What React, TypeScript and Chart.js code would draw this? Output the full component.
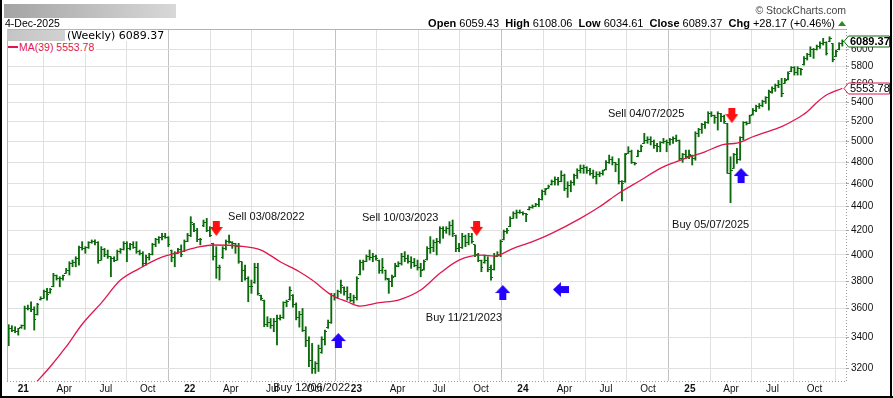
import React, { useEffect, useRef } from 'react';
import { Chart, registerables } from 'chart.js';

Chart.register(...registerables);

// ---------- data ----------
const FIRST_WEEK = '2020-11-30'; // week index 0

const tickDates = [
  '2021-01-01', '2021-04-01', '2021-07-01', '2021-10-01',
  '2022-01-01', '2022-04-01', '2022-07-01', '2022-10-01',
  '2023-01-01', '2023-04-01', '2023-07-01', '2023-10-01',
  '2024-01-01', '2024-04-01', '2024-07-01', '2024-10-01',
  '2025-01-01', '2025-04-01', '2025-07-01', '2025-10-01',
];
const tickLabels = [
  '21', 'Apr', 'Jul', 'Oct', '22', 'Apr', 'Jul', 'Oct', '23', 'Apr', 'Jul', 'Oct',
  '24', 'Apr', 'Jul', 'Oct', '25', 'Apr', 'Jul', 'Oct',
];
const yTickValues = [3200, 3400, 3600, 3800, 4000, 4200, 4400, 4600, 4800, 5000, 5200, 5400, 5600, 5800, 6000];

const opens = [
  3400, 3460, 3450, 3440, 3465, 3480, 3600, 3600, 3590, 3560,
  3662, 3670, 3720, 3712, 3760, 3840, 3820, 3820, 3860, 3880,
  3930, 3940, 3970, 4060, 4050, 4060, 4100, 4110, 4100, 3960,
  4040, 4000, 3985, 3970, 3960, 4030, 4040, 4090, 4050, 4080,
  4060, 4030, 4010, 3930, 3980, 4000, 4080, 4120, 4140, 4150,
  4140, 4035, 3980, 4015, 4040, 4030, 4110, 4160, 4250, 4200,
  4120, 4235, 4260, 4200, 4090, 3990, 3900, 3980, 4050, 4110,
  4100, 4090, 4070, 3945, 3880, 3820, 3760, 3790, 3900, 3690,
  3655, 3490, 3500, 3480, 3510, 3530, 3540, 3640, 3665, 3695,
  3630, 3540, 3560, 3450, 3380, 3250, 3200, 3230, 3300, 3390,
  3465, 3500, 3690, 3680, 3720, 3750, 3720, 3680, 3660, 3680,
  3850, 3940, 3950, 3990, 3980, 3990, 3955, 3880, 3880, 3815,
  3800, 3835, 3912, 3930, 3990, 3970, 3950, 3940, 3920, 3900,
  3885, 3962, 4050, 4060, 4100, 4110, 4210, 4200, 4210, 4240,
  4160, 4050, 4060, 4150, 4100, 4150, 4080, 4000, 3960, 3938,
  3960, 3900, 3885, 3990, 4000, 4122, 4190, 4230, 4300, 4340,
  4350, 4350, 4340, 4372, 4390, 4400, 4420, 4460, 4530, 4562,
  4592, 4620, 4640, 4620, 4680, 4560, 4590, 4610, 4680, 4720,
  4740, 4750, 4720, 4700, 4670, 4690, 4700, 4730, 4800, 4830,
  4800, 4780, 4620, 4620, 4888, 4900, 4798, 4855, 4903, 4985,
  5010, 5020, 5000, 4960, 4950, 4990, 5000, 4990, 5020, 5030,
  5010, 4840, 4870, 4860, 4865, 4840, 5080, 5120, 5170, 5190,
  5280, 5260, 5240, 5280, 5250, 5180, 4700, 4745, 4870, 4830,
  5040, 5190, 5185, 5270, 5320, 5360, 5370, 5410, 5450, 5510,
  5550, 5580, 5600, 5610, 5648, 5740, 5780, 5730, 5770, 5815,
  5890, 5930, 6000, 5990, 6030, 6070, 6080, 6090, 6066, 5912,
  5992, 6059.43,
];
const highs = [
  3487, 3480, 3473, 3462, 3485, 3617, 3624, 3648, 3612, 3637,
  3684, 3733, 3745, 3745, 3858, 3845, 3832, 3845, 3896, 3947,
  3960, 3986, 4071, 4106, 4066, 4106, 4120, 4120, 4106, 4066,
  4052, 4039, 3986, 3986, 4039, 4052, 4106, 4106, 4093, 4106,
  4106, 4039, 4026, 4000, 4013, 4093, 4133, 4147, 4174, 4174,
  4147, 4039, 4026, 4052, 4080, 4120, 4174, 4313, 4257, 4215,
  4133, 4285, 4299, 4229, 4093, 4066, 3921, 4066, 4120, 4160,
  4106, 4093, 4093, 3947, 3921, 3832, 3807, 3935, 3935, 3696,
  3660, 3542, 3530, 3530, 3554, 3554, 3648, 3660, 3757, 3700,
  3640, 3580, 3600, 3473, 3405, 3361, 3242, 3350, 3405, 3450,
  3519, 3709, 3709, 3733, 3807, 3757, 3757, 3709, 3696, 3832,
  3960, 3960, 4000, 4039, 4013, 4000, 3960, 3973, 3883, 3820,
  3845, 3935, 3947, 4013, 4026, 4000, 3986, 3973, 3960, 3935,
  3960, 4066, 4147, 4120, 4133, 4229, 4229, 4229, 4271, 4285,
  4160, 4093, 4174, 4160, 4174, 4174, 4080, 4013, 3960, 4000,
  3986, 3921, 4013, 4026, 4120, 4201, 4215, 4313, 4355, 4370,
  4370, 4355, 4341, 4400, 4414, 4428, 4472, 4546, 4560, 4590,
  4636, 4665, 4660, 4720, 4690, 4620, 4630, 4690, 4740, 4775,
  4775, 4759, 4743, 4728, 4712, 4712, 4728, 4817, 4869, 4853,
  4800, 4836, 4630, 4885, 4950, 4917, 4800, 4917, 4967, 5082,
  5048, 5048, 5016, 4983, 5000, 5032, 5016, 5032, 5048, 5065,
  5016, 4885, 4917, 4917, 4869, 5098, 5132, 5183, 5200, 5303,
  5303, 5268, 5303, 5286, 5268, 5183, 4853, 4885, 4934, 5048,
  5200, 5200, 5268, 5337, 5372, 5390, 5425, 5462, 5534, 5570,
  5600, 5640, 5663, 5663, 5737, 5795, 5795, 5795, 5776, 5910,
  5949, 6027, 6007, 6047, 6086, 6127, 6086, 6147, 6066, 5988,
  6075, 6108.06,
];
const lows = [
  3346, 3439, 3432, 3416, 3462, 3455, 3589, 3578, 3450, 3554,
  3660, 3672, 3660, 3709, 3757, 3807, 3757, 3807, 3858, 3845,
  3908, 3908, 3921, 4039, 4013, 4052, 4093, 4080, 3935, 3960,
  3986, 3973, 3832, 3947, 3960, 4013, 4039, 3947, 4039, 4052,
  4013, 4000, 3908, 3921, 3960, 4000, 4066, 4093, 4120, 4133,
  4066, 3947, 3908, 4013, 3986, 4026, 4106, 4147, 4188, 4106,
  4080, 4229, 4188, 4147, 3960, 3820, 3807, 3973, 4039, 4093,
  4052, 4013, 3935, 3795, 3807, 3648, 3709, 3783, 3696, 3660,
  3473, 3473, 3462, 3439, 3350, 3519, 3530, 3612, 3660, 3610,
  3520, 3470, 3440, 3339, 3210, 3168, 3168, 3180, 3296, 3350,
  3462, 3496, 3660, 3672, 3709, 3696, 3660, 3648, 3636, 3660,
  3845, 3883, 3947, 3960, 3947, 3960, 3858, 3858, 3807, 3709,
  3757, 3832, 3908, 3921, 3947, 3935, 3896, 3908, 3883, 3832,
  3883, 3960, 4013, 4026, 4000, 4093, 4133, 4174, 4160, 4147,
  4026, 4026, 4052, 4066, 4080, 4093, 3986, 3947, 3870, 3935,
  3870, 3807, 3883, 3986, 3986, 4120, 4174, 4229, 4299, 4299,
  4341, 4327, 4271, 4370, 4385, 4400, 4400, 4457, 4502, 4560,
  4590, 4590, 4590, 4620, 4540, 4480, 4530, 4590, 4650, 4700,
  4697, 4697, 4681, 4651, 4600, 4666, 4681, 4728, 4790, 4775,
  4712, 4600, 4450, 4615, 4885, 4790, 4775, 4853, 4901, 4983,
  4983, 4967, 4934, 4901, 4901, 4983, 4901, 4967, 4983, 5000,
  4820, 4800, 4836, 4836, 4775, 4820, 5048, 5082, 5132, 5183,
  5251, 5183, 5115, 5200, 5183, 4697, 4433, 4743, 4790, 4820,
  5016, 5166, 5183, 5268, 5303, 5337, 5355, 5390, 5320, 5500,
  5520, 5560, 5462, 5608, 5645, 5737, 5700, 5700, 5700, 5813,
  5871, 5910, 5890, 5988, 6007, 6047, 5929, 6086, 5851, 5910,
  5990, 6034.61,
];
const closes = [
  3460, 3450, 3440, 3458, 3480, 3600, 3600, 3590, 3520, 3630,
  3670, 3720, 3700, 3740, 3840, 3820, 3820, 3840, 3880, 3930,
  3940, 3970, 4060, 4050, 4060, 4100, 4110, 4100, 3960, 4040,
  4000, 3990, 3970, 3960, 4030, 4040, 4090, 4050, 4080, 4060,
  4030, 4010, 3930, 3980, 4000, 4080, 4120, 4140, 4150, 4140,
  4080, 3980, 4010, 4040, 4000, 4110, 4160, 4260, 4200, 4120,
  4120, 4260, 4200, 4160, 3990, 3900, 3900, 4050, 4110, 4110,
  4090, 4070, 3950, 3880, 3820, 3760, 3760, 3900, 3710, 3670,
  3490, 3500, 3480, 3510, 3530, 3540, 3640, 3650, 3730, 3630,
  3540, 3560, 3450, 3380, 3250, 3200, 3230, 3330, 3390, 3440,
  3500, 3690, 3680, 3720, 3770, 3720, 3680, 3660, 3680, 3820,
  3940, 3950, 3990, 3980, 3990, 3970, 3880, 3900, 3820, 3800,
  3830, 3920, 3930, 3990, 3970, 3950, 3940, 3920, 3900, 3880,
  3950, 4050, 4060, 4100, 4110, 4210, 4200, 4210, 4240, 4170,
  4050, 4060, 4150, 4100, 4150, 4110, 4000, 3960, 3900, 3960,
  3890, 3830, 3990, 4000, 4110, 4190, 4200, 4300, 4340, 4350,
  4350, 4340, 4330, 4390, 4400, 4420, 4460, 4530, 4550, 4580,
  4620, 4640, 4620, 4680, 4560, 4590, 4610, 4680, 4720, 4740,
  4750, 4720, 4700, 4670, 4690, 4700, 4720, 4800, 4830, 4800,
  4780, 4620, 4600, 4870, 4900, 4800, 4790, 4900, 4950, 5010,
  5020, 5000, 4960, 4950, 4990, 5000, 4990, 5020, 5030, 5010,
  4840, 4870, 4860, 4870, 4840, 5080, 5120, 5170, 5190, 5280,
  5260, 5240, 5280, 5250, 5200, 4700, 4720, 4870, 4830, 5040,
  5190, 5180, 5260, 5320, 5360, 5370, 5410, 5450, 5520, 5550,
  5580, 5600, 5500, 5640, 5720, 5780, 5730, 5770, 5760, 5890,
  5930, 6000, 5990, 6030, 6070, 6080, 5950, 6120, 5880, 5970,
  6061.2, 6089.37,
];

// 39-week moving average (week index -> value)
const maWeeks = [
  8, 13, 18, 23, 29, 35, 41, 47, 54, 60, 64, 72, 79, 85, 91, 95, 101, 106, 110, 116,
  122, 129, 135, 141, 148, 152, 158, 164, 170, 179, 185, 191, 198, 204, 210, 213, 218,
  224, 228, 233, 239, 242, 246, 250, 253, 256, 261,
];
const maValues = [
  3100, 3210, 3339, 3490, 3640, 3807, 3896, 3973, 4026, 4066, 4079, 4071, 4039, 3947, 3870, 3807, 3697, 3648, 3617, 3641,
  3660, 3733, 3858, 3960, 3998, 3991, 4053, 4106, 4174, 4299, 4398, 4516, 4636, 4744, 4816, 4850, 4901,
  4973, 4985, 5048, 5115, 5149, 5217, 5303, 5400, 5480, 5553.78,
];

// signal arrows (week index, price)
const sellWeeks = [65, 146.5, 226.4];
const sellPrices = [4214, 4215, 5263];
const buyWeeks = [103.2, 154.7, 229.3];
const buyPrices = [3380, 3715, 4677];
const leftWeeks = [172.9];
const leftPrices = [3737];

// signal notes (text, anchor week index, anchor price)
const noteTexts = ['Sell 03/08/2022', 'Buy 12/06/2022', 'Sell 10/03/2023', 'Buy 11/21/2023', 'Sell 04/07/2025', 'Buy 05/07/2025'];
const noteWeeks = [68.7, 82.8, 110.6, 130.6, 187.6, 207.7];
const notePrices = [4310, 3078, 4299, 3531, 5276, 4243];

// ---------- styling ----------
const SANS = '"Liberation Sans", Arial, Helvetica, sans-serif';
const GREEN = '#0b6a0b';
const MA_RED = '#e0174e';

const weekOf = (d: string) => (Date.parse(d) - Date.parse(FIRST_WEEK)) / (7 * 86400000);
const tickWeeks = tickDates.map(weekOf);
const isYear = (i: number) => /^\d+$/.test(tickLabels[i] || '');

function mkCanvas(w: number, h: number, draw: (g: CanvasRenderingContext2D) => void) {
  const c = document.createElement('canvas');
  c.width = w;
  c.height = h;
  const g = c.getContext('2d')!;
  draw(g);
  return c;
}

export default function App() {
  const ref = useRef<HTMLCanvasElement>(null);

  useEffect(() => {
    document.body.style.margin = '0';
    const canvas = ref.current!;
    const openTick = mkCanvas(4, 1, (g) => { g.fillStyle = GREEN; g.fillRect(0, 0, 2, 1); });
    const closeTick = mkCanvas(4, 1, (g) => { g.fillStyle = GREEN; g.fillRect(2, 0, 2, 1); });
    const downArrow = mkCanvas(13, 15, (g) => {
      g.fillStyle = '#ff1010';
      g.fillRect(3, 0, 7, 7);
      g.beginPath(); g.moveTo(0, 6); g.lineTo(13, 6); g.lineTo(6.5, 15); g.closePath(); g.fill();
    });
    const upArrow = mkCanvas(15, 15, (g) => {
      g.fillStyle = '#2400ff';
      g.fillRect(4, 7, 7, 8);
      g.beginPath(); g.moveTo(0, 8); g.lineTo(15, 8); g.lineTo(7.5, 0); g.closePath(); g.fill();
    });
    const leftArrow = mkCanvas(16, 15, (g) => {
      g.fillStyle = '#2400ff';
      g.fillRect(7, 4, 9, 7);
      g.beginPath(); g.moveTo(0, 7.5); g.lineTo(8, 0); g.lineTo(8, 15); g.closePath(); g.fill();
    });

    const drawTag = (ctx: CanvasRenderingContext2D, yPix: number, text: string, color: string, bold: boolean) => {
      const xp = 844, xb = 848.5, xr = 889.5, h = 11;
      const yc = Math.round(yPix) + 0.5;
      ctx.beginPath();
      ctx.moveTo(xp, yc);
      ctx.lineTo(xb, yc - h / 2);
      ctx.lineTo(xr, yc - h / 2);
      ctx.lineTo(xr, yc + h / 2);
      ctx.lineTo(xb, yc + h / 2);
      ctx.closePath();
      ctx.fillStyle = '#fff';
      ctx.fill();
      ctx.strokeStyle = color;
      ctx.lineWidth = 1;
      ctx.stroke();
      ctx.fillStyle = '#000';
      ctx.font = `${bold ? 'bold ' : ''}11px ${SANS}`;
      ctx.textAlign = 'left';
      ctx.textBaseline = 'middle';
      ctx.fillText(text, 850, yc + 0.5);
    };

    const overlay = {
      id: 'overlay',
      afterDraw(chart: any) {
        const { ctx, chartArea: a, scales } = chart;
        const xs = scales.x, ys = scales.y;
        ctx.save();
        // plot frame: solid top/left, dotted bottom/right axis lines
        ctx.strokeStyle = '#b4b4b4';
        ctx.lineWidth = 1;
        ctx.beginPath();
        ctx.moveTo(a.left + 0.5, a.bottom);
        ctx.lineTo(a.left + 0.5, a.top + 0.5);
        ctx.lineTo(a.right, a.top + 0.5);
        ctx.stroke();
        ctx.strokeStyle = '#9a9a9a';
        ctx.setLineDash([1, 2]);
        ctx.beginPath();
        ctx.moveTo(a.left, a.bottom + 0.5);
        ctx.lineTo(a.right + 0.5, a.bottom + 0.5);
        ctx.lineTo(a.right + 0.5, a.top);
        ctx.stroke();
        ctx.setLineDash([]);

        ctx.font = `11px ${SANS}`;
        ctx.fillStyle = '#111';
        ctx.textAlign = 'left';
        ctx.textBaseline = 'middle';
        noteTexts.forEach((t, k) => {
          ctx.fillText(t, xs.getPixelForValue(noteWeeks[k]), ys.getPixelForValue(notePrices[k]));
        });

        drawTag(ctx, ys.getPixelForValue(maValues[maValues.length - 1]), maValues[maValues.length - 1].toFixed(2), MA_RED, false);
        drawTag(ctx, ys.getPixelForValue(closes[closes.length - 1]), closes[closes.length - 1].toFixed(2), '#106a10', true);
        ctx.restore();
      },
    };

    const weekIdx = closes.map((_, i) => i);
    const chart = new Chart(canvas, {
      type: 'bar',
      data: {
        datasets: [
          {
            type: 'scatter',
            data: sellWeeks.map((w, k) => ({ x: w, y: sellPrices[k] })),
            pointStyle: downArrow as any,
            order: 0,
          } as any,
          {
            type: 'scatter',
            data: buyWeeks.map((w, k) => ({ x: w, y: buyPrices[k] })),
            pointStyle: upArrow as any,
            order: 0,
          } as any,
          {
            type: 'scatter',
            data: leftWeeks.map((w, k) => ({ x: w, y: leftPrices[k] })),
            pointStyle: leftArrow as any,
            order: 0,
          } as any,
          {
            type: 'line',
            data: maWeeks.map((w, k) => ({ x: w, y: maValues[k] })),
            borderColor: MA_RED,
            borderWidth: 1.3,
            pointRadius: 0,
            cubicInterpolationMode: 'monotone',
            clip: 0,
            order: 1,
          } as any,
          {
            type: 'scatter',
            data: weekIdx.map((i) => ({ x: i, y: opens[i] })),
            pointStyle: openTick as any,
            order: 2,
          } as any,
          {
            type: 'scatter',
            data: weekIdx.map((i) => ({ x: i, y: closes[i] })),
            pointStyle: closeTick as any,
            order: 2,
          } as any,
          {
            type: 'bar',
            data: weekIdx.map((i) => ({ x: i, y: [lows[i], highs[i]] })),
            backgroundColor: GREEN,
            borderWidth: 0,
            barThickness: 1.2,
            order: 3,
          } as any,
        ],
      },
      options: {
        responsive: false,
        animation: false,
        devicePixelRatio: 1,
        events: [],
        layout: { padding: { left: 7, top: 29, right: 0, bottom: 0 } },
        plugins: { legend: { display: false }, tooltip: { enabled: false } },
        scales: {
          x: {
            type: 'linear',
            min: -0.53,
            max: 262.15,
            offset: false,
            afterBuildTicks: (s: any) => { s.ticks = tickWeeks.map((v) => ({ value: v })); },
            afterFit: (s: any) => { s.height = 17; },
            ticks: {
              autoSkip: false,
              maxRotation: 0,
              minRotation: 0,
              padding: 2,
              color: '#111',
              font: (c: any) => ({ family: SANS, size: 10, weight: isYear(c.index) ? 'bold' : 'normal' }),
              callback: (_v: any, i: number) => tickLabels[i],
            },
            grid: {
              color: (c: any) => (isYear(c.index) ? '#c2c2c2' : '#e0e0e0'),
              drawTicks: false,
              tickLength: 0,
            },
            border: { display: false },
          } as any,
          y: {
            type: 'logarithmic',
            position: 'right',
            min: 3121,
            max: 6241,
            afterBuildTicks: (s: any) => { s.ticks = yTickValues.map((v) => ({ value: v })); },
            afterFit: (s: any) => { s.width = 47; },
            ticks: {
              autoSkip: false,
              padding: 2,
              color: '#111',
              font: { family: SANS, size: 10 },
              callback: (v: any) => String(v),
            },
            grid: { color: '#e0e0e0', drawTicks: true, tickLength: 3, tickColor: '#a8a8a8' },
            border: { display: false },
          } as any,
        },
      },
      plugins: [overlay],
    });
    return () => chart.destroy();
  }, []);

  const last = closes.length - 1;
  const chg = closes[last] - closes[last - 1];
  const pct = (chg / closes[last - 1]) * 100;
  const maLast = maValues[maValues.length - 1];
  const abs = (o: React.CSSProperties): React.CSSProperties => ({ position: 'absolute', whiteSpace: 'nowrap', ...o });

  return (
    <div style={{ position: 'relative', width: 893, height: 398, background: '#fff', overflow: 'hidden' }}>
      <canvas ref={ref} width={893} height={398} style={{ position: 'absolute', left: 0, top: 0, width: 893, height: 398 }} />
      <div style={abs({ left: 4, top: 4, width: 172, height: 14, background: 'linear-gradient(to right, #a4a4a4, #d8d8d8)' })} />
      <div style={abs({ left: 5, top: 17, font: `10.5px ${SANS}`, lineHeight: '12px', color: '#000' })}>4-Dec-2025</div>
      <div style={abs({ right: 47, top: 4, font: `10.5px ${SANS}`, lineHeight: '12px', color: '#444' })}>© StockCharts.com</div>
      <div style={abs({ right: 47, top: 17, font: `11px ${SANS}`, lineHeight: '12px', color: '#000' })}>
        <b>Open</b> {opens[last].toFixed(2)}&nbsp; <b>High</b> {highs[last].toFixed(2)}&nbsp; <b>Low</b> {lows[last].toFixed(2)}&nbsp;{' '}
        <b>Close</b> {closes[last].toFixed(2)}&nbsp; <b>Chg</b> {chg >= 0 ? '+' : ''}{chg.toFixed(2)} ({chg >= 0 ? '+' : ''}{pct.toFixed(2)}%){' '}
        <span style={{ display: 'inline-block', width: 0, height: 0, borderLeft: '4px solid transparent', borderRight: '4px solid transparent', borderBottom: '5px solid #2a8a2a', verticalAlign: 'middle', marginBottom: 2 }} />
      </div>
      <div style={abs({ left: 7, top: 30, height: 11, display: 'flex', alignItems: 'center', background: '#fff', paddingRight: 2 })}>
        <div style={{ width: 58, height: 11, background: 'linear-gradient(to right, #c4c4c4, #d2d2d2)' }} />
        <span style={{ font: '11px "DejaVu Sans", sans-serif', lineHeight: '11px', marginLeft: 2, color: '#000' }}>
          (Weekly) {closes[last].toFixed(2)}
        </span>
      </div>
      <div style={abs({ left: 8, top: 41, height: 12, display: 'flex', alignItems: 'center', background: '#fff', paddingRight: 2 })}>
        <div style={{ width: 10, height: 2, background: MA_RED }} />
        <span style={{ font: `10.5px ${SANS}`, lineHeight: '12px', marginLeft: 1, color: MA_RED }}>MA(39) {maLast.toFixed(2)}</span>
      </div>
      <div style={abs({ left: 0, top: 0, width: 2, height: 398, background: '#000' })} />
      <div style={abs({ left: 890, top: 0, width: 2, height: 398, background: '#000' })} />
      <div style={abs({ left: 0, top: 396, width: 893, height: 2, background: '#000' })} />
    </div>
  );
}
